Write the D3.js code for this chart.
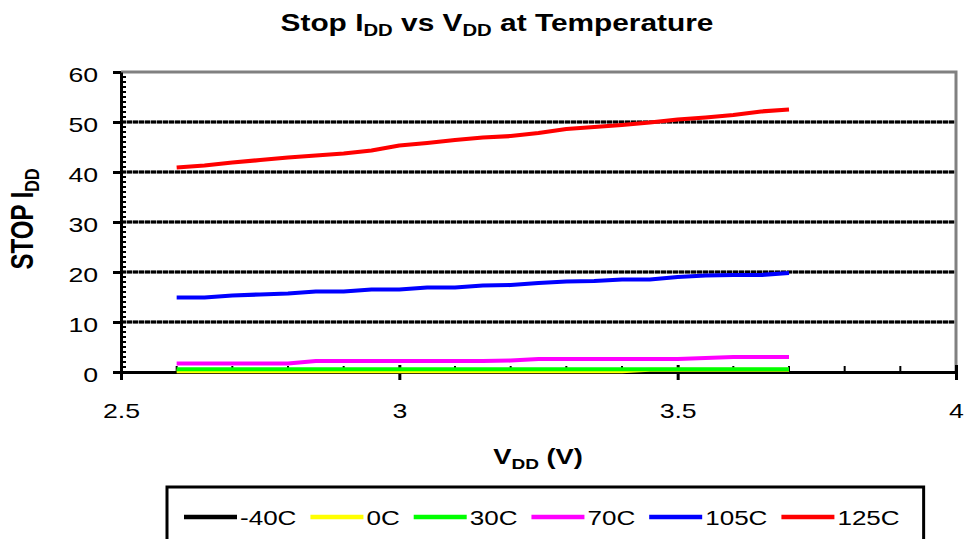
<!DOCTYPE html>
<html>
<head>
<meta charset="utf-8">
<script src="https://cdn.jsdelivr.net/npm/d3@7"></script>
<style>
  html, body { margin: 0; padding: 0; background: #fff; }
  svg { display: block; font-family: "Liberation Sans", Arial, sans-serif; }
</style>
</head>
<body>
<svg id="chart" width="965" height="539"></svg>
<script>
// ---------------- data ----------------
const vdd = [2.6, 2.65, 2.7, 2.75, 2.8, 2.85, 2.9, 2.95, 3.0, 3.05, 3.1, 3.15,
             3.2, 3.25, 3.3, 3.35, 3.4, 3.45, 3.5, 3.55, 3.6, 3.65, 3.7];
const seriesNames = ["-40C", "0C", "30C", "70C", "105C", "125C"];
const idd_m40 = [0.05, 0.05, 0.05, 0.05, 0.05, 0.05, 0.05, 0.05, 0.05, 0.05, 0.05, 0.05,
                 0.05, 0.05, 0.05, 0.05, 0.05, 0.05, 0.05, 0.05, 0.05, 0.05, 0.05];
const idd_0 = [0.15, 0.15, 0.15, 0.15, 0.15, 0.15, 0.15, 0.15, 0.15, 0.15, 0.15, 0.15,
               0.15, 0.15, 0.15, 0.15, 0.15, 0.45, 0.45, 0.45, 0.45, 0.45, 0.45];
const idd_30 = [0.55, 0.55, 0.55, 0.55, 0.55, 0.55, 0.55, 0.55, 0.55, 0.55, 0.55, 0.55,
                0.55, 0.55, 0.55, 0.55, 0.55, 0.55, 0.55, 0.55, 0.55, 0.55, 0.55];
const idd_70 = [1.7, 1.7, 1.7, 1.7, 1.7, 2.2, 2.2, 2.2, 2.2, 2.2, 2.2, 2.2,
                2.3, 2.6, 2.6, 2.6, 2.6, 2.6, 2.6, 2.8, 3.0, 3.0, 3.0];
const idd_105 = [14.9, 14.9, 15.3, 15.5, 15.7, 16.1, 16.1, 16.5, 16.5, 16.9, 16.9, 17.3,
                 17.4, 17.8, 18.1, 18.2, 18.5, 18.5, 19.0, 19.3, 19.4, 19.4, 19.8];
const idd_125 = [40.9, 41.3, 41.9, 42.4, 42.9, 43.3, 43.7, 44.3, 45.3, 45.8, 46.4, 46.9,
                 47.2, 47.8, 48.6, 49.0, 49.4, 49.9, 50.5, 50.9, 51.4, 52.1, 52.5];
const seriesValues = [idd_m40, idd_0, idd_30, idd_70, idd_105, idd_125];
const seriesColors = ["#000000", "#FFFF00", "#00FF00", "#FF00FF", "#0000FF", "#FF0000"];
const xTicks = [2.5, 3, 3.5, 4];
const yTicks = [0, 10, 20, 30, 40, 50, 60];

// ---------------- layout ----------------
const SX = 1.27; // horizontal stretch of the original text
const FONT = "Liberation Sans, Arial, sans-serif";
const svg = d3.select("#chart");
const x = d3.scaleLinear().domain([2.5, 4]).range([121, 956]);
const y = d3.scaleLinear().domain([0, 60]).range([372, 72]);

// gridlines (gray underlay + black dashes)
const gridVals = yTicks.filter(d => d > 0 && d < 60);
svg.append("g").selectAll("line").data(gridVals).join("line")
  .attr("x1", x(2.5)).attr("x2", x(4))
  .attr("y1", d => y(d)).attr("y2", d => y(d))
  .attr("stroke", "#9a9a9a").attr("stroke-width", 3);
svg.append("g").selectAll("line").data(gridVals).join("line")
  .attr("x1", x(2.5)).attr("x2", x(4))
  .attr("y1", d => y(d)).attr("y2", d => y(d))
  .attr("stroke", "#000").attr("stroke-width", 3).attr("stroke-dasharray", "5,1");

// plot border top/right (gray)
svg.append("path")
  .attr("d", `M${x(2.5)},${y(60)}H${x(4)}V${y(0)}`)
  .attr("fill", "none").attr("stroke", "#808080").attr("stroke-width", 3);

// minor ticks
svg.append("g").selectAll("line").data(d3.range(0, 60, 1).filter(d => d % 10 !== 0)).join("line")
  .attr("x1", x(2.5)).attr("x2", x(2.5) + 5)
  .attr("y1", d => y(d)).attr("y2", d => y(d))
  .attr("stroke", "#000").attr("stroke-width", 2);
svg.append("g").selectAll("line").data(d3.range(1, 15).map(i => 2.5 + i * 0.1).filter(d => Math.abs(d * 2 - Math.round(d * 2)) > 1e-6)).join("line")
  .attr("x1", d => x(d)).attr("x2", d => x(d))
  .attr("y1", y(0)).attr("y2", y(0) - 6)
  .attr("stroke", "#000").attr("stroke-width", 2);

// y axis
const yAxis = svg.append("g").attr("transform", `translate(${x(2.5)},0)`)
  .call(d3.axisLeft(y).tickValues(yTicks).tickSize(8).tickSizeOuter(0).tickFormat(d3.format("d")));
yAxis.select(".domain").attr("stroke", "#000").attr("stroke-width", 3);
yAxis.selectAll(".tick line").attr("stroke", "#000").attr("stroke-width", 3);
yAxis.selectAll(".tick text")
  .attr("x", -18).attr("dy", "0.36em").attr("y", 2)
  .attr("transform", `scale(${SX},1)`)
  .attr("font-size", 21).attr("fill", "#000").attr("font-family", FONT);

// x axis
const xAxis = svg.append("g").attr("transform", `translate(0,${y(0)})`)
  .call(d3.axisBottom(x).tickValues(xTicks).tickSize(8).tickSizeOuter(0).tickFormat(d => String(d)));
xAxis.select(".domain").attr("stroke", "#000").attr("stroke-width", 3);
xAxis.selectAll(".tick line").attr("stroke", "#000").attr("stroke-width", 3).attr("y1", -7);
xAxis.selectAll(".tick text")
  .attr("y", 46).attr("dy", 0)
  .attr("transform", `scale(${SX},1)`)
  .attr("font-size", 21).attr("fill", "#000").attr("font-family", FONT);

// series
const line = d3.line().x((d, i) => x(vdd[i])).y(d => y(d));
svg.append("g").selectAll("path").data(seriesValues).join("path")
  .attr("d", d => line(d))
  .attr("fill", "none")
  .attr("stroke", (d, i) => seriesColors[i])
  .attr("stroke-width", 4.2)
  .attr("stroke-linejoin", "round");

// helper for text with subscripts
function subText(g, parts, size, subSize, shift) {
  const t = g.append("text").attr("font-size", size).attr("font-family", FONT);
  parts.forEach(p => {
    if (p.sub) {
      t.append("tspan").attr("font-size", subSize).attr("dy", shift).text(p.t);
    } else {
      t.append("tspan").attr("dy", p.after ? -shift : 0).text(p.t);
    }
  });
  return t;
}

// title
const titleG = svg.append("g").attr("transform", `translate(497,31) scale(${SX},1)`);
subText(titleG, [{t: "Stop I"}, {t: "DD", sub: true}, {t: " vs V", after: true}, {t: "DD", sub: true}, {t: " at Temperature", after: true}], 23.5, 16, 5)
  .attr("text-anchor", "middle").attr("font-weight", "bold").attr("fill", "#000");

// x axis title
const xtG = svg.append("g").attr("transform", `translate(538,464) scale(${SX},1)`);
subText(xtG, [{t: "V"}, {t: "DD", sub: true}, {t: " (V)", after: true}], 21.5, 15, 5)
  .attr("text-anchor", "middle").attr("font-weight", "bold").attr("fill", "#000");

// y axis title
const ytG = svg.append("g").attr("transform", `translate(33,219) rotate(-90) scale(1,${SX})`);
subText(ytG, [{t: "STOP I"}, {t: "DD", sub: true}], 24, 16, 5)
  .attr("text-anchor", "middle").attr("font-weight", "bold").attr("fill", "#000");

// legend
const legG = svg.append("g");
const legBox = legG.append("rect")
  .attr("fill", "#fff").attr("stroke", "#000").attr("stroke-width", 3);
let cx = 184;
const ly = 517;
seriesNames.forEach((name, i) => {
  legG.append("line")
    .attr("x1", cx).attr("x2", cx + 53).attr("y1", ly).attr("y2", ly)
    .attr("stroke", seriesColors[i]).attr("stroke-width", 4.5);
  const tg = legG.append("g").attr("transform", `translate(${cx + 56},${ly + 7.5}) scale(${SX},1)`);
  const t = tg.append("text").attr("font-size", 20.5).attr("font-family", FONT).attr("fill", "#000").text(name);
  const w = t.node().getComputedTextLength() * SX;
  cx = cx + 56 + w + 14;
});
legBox.attr("x", 167).attr("y", 487).attr("width", cx - 167 + 10).attr("height", 70);
</script>
</body>
</html>
